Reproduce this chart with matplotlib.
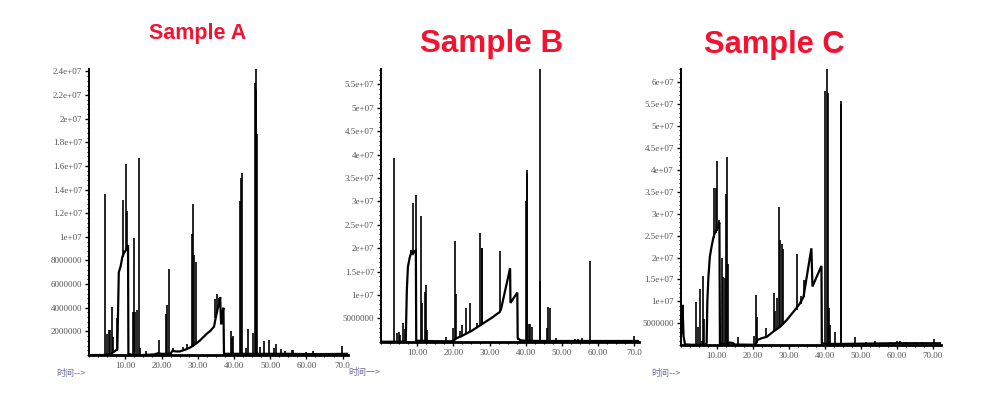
import matplotlib
matplotlib.use("Agg")
import matplotlib.pyplot as plt
from matplotlib.ticker import FixedLocator, FixedFormatter, MultipleLocator

# ---------------- data ----------------
titles = ["Sample A", "Sample B", "Sample C"]
x_label_text = ["时间-->", "时间一>", "时间-->"]

x_ticks = [10, 20, 30, 40, 50, 60, 70]
a_x_ticklabels = ["10.00", "20.00", "30.00", "40.00", "50.00", "60.00", "70.0"]
b_x_ticklabels = ["10.00", "20.00", "30.00", "40.00", "50.00", "60.00", "70.0"]
c_x_ticklabels = ["10.00", "20.00", "30.00", "40.00", "50.00", "60.00", "70.00"]

a_y_ticks = [2e6, 4e6, 6e6, 8e6, 1e7, 1.2e7, 1.4e7, 1.6e7, 1.8e7, 2e7, 2.2e7, 2.4e7]
a_y_ticklabels = ["2000000", "4000000", "6000000", "8000000", "1e+07", "1.2e+07",
                  "1.4e+07", "1.6e+07", "1.8e+07", "2e+07", "2.2e+07", "2.4e+07"]
b_y_ticks = [5e6, 1e7, 1.5e7, 2e7, 2.5e7, 3e7, 3.5e7, 4e7, 4.5e7, 5e7, 5.5e7]
b_y_ticklabels = ["5000000", "1e+07", "1.5e+07", "2e+07", "2.5e+07", "3e+07",
                  "3.5e+07", "4e+07", "4.5e+07", "5e+07", "5.5e+07"]
c_y_ticks = [5e6, 1e7, 1.5e7, 2e7, 2.5e7, 3e7, 3.5e7, 4e7, 4.5e7, 5e7, 5.5e7, 6e7]
c_y_ticklabels = ["5000000", "1e+07", "1.5e+07", "2e+07", "2.5e+07", "3e+07",
                  "3.5e+07", "4e+07", "4.5e+07", "5e+07", "5.5e+07", "6e+07"]

# Sample A baseline trace
a_base_t = [0, 4.0, 6.0, 7.0, 7.8, 8.2, 8.7, 9.2, 9.6, 10.2, 10.75, 10.85, 12, 15,
            18.0, 19.0, 20.0, 22.5, 23.0, 24.0, 25.0, 26.0, 27.0, 28.0, 29.0, 29.7,
            30.5, 31.5, 32.5, 33.5, 34.5, 35.0, 35.5, 36.0, 36.2, 36.45, 36.8, 37.1,
            37.25, 38.0, 40.0, 45.0, 50.0, 55.0, 60.0, 65.0, 71.5]
a_base_v = [0, 0, 0.1e6, 0.3e6, 0.5e6, 7.0e6, 7.5e6, 8.3e6, 8.6e6, 8.9e6, 9.3e6, 0.1e6,
            0, 0, 0.05e6, 0.15e6, 0.1e6, 0.1e6, 0.35e6, 0.3e6, 0.3e6, 0.4e6, 0.5e6,
            0.65e6, 0.85e6, 1.0e6, 1.2e6, 1.5e6, 1.8e6, 2.05e6, 2.4e6, 3.2e6, 3.9e6,
            4.5e6, 4.9e6, 2.6e6, 3.5e6, 4.0e6, 0.1e6, 0.1e6, 0.1e6, 0.1e6, 0.1e6,
            0.1e6, 0.08e6, 0.08e6, 0.1e6]
# Sample A peaks: time, apex, foot
a_peak_t = [4.4, 5.0, 5.4, 5.9, 6.3, 6.6, 7.6, 9.3, 10.1, 10.6, 12.2, 12.5, 12.7, 13.2,
            13.7, 13.95, 15.8, 19.4, 21.1, 21.6, 22.1, 23.2, 25.8, 26.9, 28.3, 28.7,
            29.1, 29.5, 34.9, 35.3, 35.9, 39.1, 39.4, 39.7, 41.8, 41.95, 42.1, 43.2,
            44.0, 45.4, 45.8, 46.0, 46.2, 46.4, 47.2, 48.4, 49.8, 51.2, 51.5, 53.0,
            54.0, 55.9, 56.3, 58.9, 59.8, 61.9, 64.5, 67.0, 69.8]
a_peak_h = [1.36e7, 1.8e6, 2.1e6, 2.1e6, 4.1e6, 1.5e6, 3.1e6, 1.31e7, 1.62e7, 1.22e7,
            3.6e6, 9.9e6, 3.6e6, 3.8e6, 1.67e7, 0.6e6, 0.3e6, 1.3e6, 3.5e6, 4.2e6,
            7.3e6, 0.6e6, 0.7e6, 0.9e6, 1.02e7, 1.28e7, 8.5e6, 7.9e6, 4.7e6, 5.2e6,
            4.8e6, 2.0e6, 1.4e6, 1.6e6, 1.3e7, 1.5e7, 1.54e7, 0.6e6, 2.2e6, 1.85e6,
            2.3e7, 2.42e7, 2.24e7, 1.87e7, 0.7e6, 1.2e6, 1.25e6, 0.6e6, 0.9e6, 0.55e6,
            0.35e6, 0.45e6, 0.4e6, 0.2e6, 0.25e6, 0.35e6, 0.15e6, 0.2e6, 0.8e6]
a_peak_b = [0, 0, 0, 0.1e6, 0.1e6, 0.2e6, 0.3e6, 8.3e6, 8.9e6, 9.2e6, 0, 0, 0, 0,
            0, 0, 0, 0.1e6, 0.1e6, 0.1e6, 0.1e6, 0.3e6, 0.4e6, 0.5e6, 0.65e6, 0.7e6,
            0.8e6, 0.9e6, 3.1e6, 3.7e6, 4.4e6, 0.1e6, 0.1e6, 0.1e6, 0.1e6, 0.1e6,
            0.1e6, 0.1e6, 0.1e6, 0.1e6, 0.1e6, 0.1e6, 0.1e6, 0.1e6, 0.1e6, 0.1e6,
            0.1e6, 0.1e6, 0.1e6, 0.1e6, 0.1e6, 0.1e6, 0.1e6, 0.1e6, 0.1e6, 0.1e6,
            0.1e6, 0.1e6, 0.1e6]

# Sample B baseline trace
b_base_t = [0, 6.0, 6.8, 7.1, 7.4, 7.9, 8.4, 8.8, 9.2, 9.6, 9.7, 11.0, 15.0, 19.5,
            20.0, 21.0, 22.0, 23.0, 24.0, 25.0, 26.0, 27.0, 28.0, 29.0, 30.0, 31.0,
            32.0, 32.8, 33.2, 35.7, 35.8, 37.7, 37.8, 38.5, 40.0, 45.0, 50.0, 55.0,
            60.0, 65.0, 71.4]
b_base_v = [0, 0, 0.3e6, 1.1e7, 1.6e7, 1.8e7, 1.92e7, 1.88e7, 1.93e7, 1.95e7, 0.2e6,
            0.2e6, 0.1e6, 0.1e6, 0.2e6, 0.8e6, 1.1e6, 1.5e6, 1.9e6, 2.3e6, 2.8e6,
            3.3e6, 3.8e6, 4.3e6, 4.8e6, 5.3e6, 5.9e6, 6.3e6, 7.0e6, 1.57e7, 8.3e6,
            1.05e7, 0.8e6, 0.3e6, 0.2e6, 0.15e6, 0.15e6, 0.15e6, 0.15e6, 0.15e6,
            0.15e6]
b_peak_t = [3.65, 4.5, 4.8, 5.3, 6.1, 6.7, 8.3, 8.9, 9.55, 11.0, 11.3, 12.0, 12.4, 12.6,
            15.5, 18.0, 19.9, 20.5, 20.8, 21.7, 22.5, 23.4, 24.5, 26.6, 27.4, 27.8,
            28.0, 33.0, 38.0, 40.1, 40.3, 40.5, 40.8, 41.2, 41.7, 43.9, 44.1, 45.8,
            46.1, 46.7, 48.4, 53.7, 54.6, 55.5, 56.7, 57.8, 70.1]
b_peak_h = [3.92e7, 1.8e6, 2.0e6, 1.4e6, 4.1e6, 2.7e6, 1.97e7, 2.97e7, 3.14e7, 2.68e7,
            8.2e6, 1.06e7, 1.21e7, 2.5e6, 0.3e6, 1.0e6, 2.9e6, 2.15e7, 1.03e7, 2.3e6,
            3.5e6, 7.1e6, 8.2e6, 3.9e6, 2.33e7, 2.0e7, 2.0e7, 1.94e7, 0.8e6, 3.0e7,
            3.68e7, 3.6e7, 3.8e6, 3.8e6, 3.1e6, 5.83e7, 1.3e7, 2.9e6, 7.5e6, 7.2e6,
            0.7e6, 0.5e6, 0.5e6, 0.8e6, 0.4e6, 1.72e7, 1.3e6]
b_peak_b = [0, 0, 0, 0, 0, 0.2e6, 1.9e7, 1.88e7, 1.9e7, 0.2e6, 0.2e6, 0.2e6, 0.2e6,
            0.2e6, 0.1e6, 0.1e6, 0.15e6, 0.5e6, 0.6e6, 1.0e6, 1.3e6, 1.6e6, 2.0e6,
            3.1e6, 3.5e6, 3.7e6, 3.8e6, 6.5e6, 0.3e6, 0.2e6, 0.2e6, 0.2e6, 0.2e6,
            0.2e6, 0.2e6, 0.15e6, 0.15e6, 0.15e6, 0.15e6, 0.15e6, 0.15e6, 0.15e6,
            0.15e6, 0.15e6, 0.15e6, 0.15e6, 0.15e6]

# Sample C baseline trace
c_base_t = [0, 0.3, 0.5, 0.8, 1.2, 3.0, 6.9, 7.2, 7.4, 7.7, 8.1, 8.6, 9.1, 9.5, 10.0,
            10.5, 10.75, 10.9, 13.2, 13.6, 14.5, 15.0, 20.5, 20.9, 21.3, 22.5, 23.9,
            25.7, 27.6, 29.4, 31.3, 33.1, 34.1, 36.3, 36.6, 39.1, 39.2, 40.0, 45.0,
            50.0, 55.0, 60.0, 65.0, 72.3]
c_base_v = [1.0e6, 5.0e6, 9.2e6, 2.0e6, 0.2e6, 0.1e6, 0.1e6, 0.5e6, 1.0e7, 1.56e7,
            2.02e7, 2.26e7, 2.46e7, 2.57e7, 2.63e7, 2.74e7, 2.8e7, 0.3e6, 0.3e6,
            0.6e6, 0.5e6, 0.15e6, 0.1e6, 0.3e6, 1.2e6, 1.6e6, 1.9e6, 3.1e6, 4.2e6,
            5.7e6, 7.6e6, 9.5e6, 1.1e7, 2.21e7, 1.34e7, 1.81e7, 0.5e6, 0.3e6, 0.3e6,
            0.35e6, 0.4e6, 0.45e6, 0.45e6, 0.45e6]
c_peak_t = [4.2, 4.9, 5.35, 5.9, 6.3, 6.6, 9.35, 9.7, 10.1, 10.75, 11.6, 11.85, 12.2,
            12.7, 12.9, 13.1, 16.0, 20.4, 20.9, 21.2, 23.8, 25.8, 26.3, 26.8, 27.3,
            27.7, 28.0, 28.3, 32.2, 33.3, 34.2, 40.2, 40.5, 40.8, 41.1, 41.6, 42.9,
            44.4, 44.6, 46.5, 48.3, 51.5, 54.0, 56.0, 58.0, 60.0, 61.0, 62.5, 65.0,
            67.0, 70.4]
c_peak_h = [9.9e6, 4.2e6, 1.28e7, 1.0e6, 1.58e7, 5.9e6, 3.58e7, 3.58e7, 4.2e7, 2.86e7,
            1.98e7, 1.55e7, 1.54e7, 3.44e7, 4.29e7, 1.85e7, 1.95e6, 2.2e6, 1.15e7,
            6.5e6, 3.9e6, 1.18e7, 7.7e6, 1.07e7, 3.16e7, 2.4e7, 2.3e7, 2.2e7, 2.08e7,
            1.12e7, 1.49e7, 5.8e7, 6.3e7, 5.75e7, 8.4e6, 4.6e6, 3.1e6, 5.58e7, 5.5e7,
            0.6e6, 1.9e6, 0.8e6, 0.9e6, 0.6e6, 0.7e6, 0.9e6, 0.9e6, 0.8e6, 0.8e6,
            0.7e6, 1.4e6]
c_peak_b = [0.1e6, 0.1e6, 0.1e6, 0.1e6, 0.1e6, 0.1e6, 2.45e7, 2.55e7, 2.6e7, 2.75e7,
            0.3e6, 0.3e6, 0.3e6, 0.3e6, 0.3e6, 0.5e6, 0.15e6, 0.1e6, 0.2e6, 0.4e6,
            1.9e6, 3.0e6, 3.3e6, 3.6e6, 3.9e6, 4.1e6, 4.3e6, 4.5e6, 8.0e6, 9.5e6,
            1.1e7, 0.3e6, 0.3e6, 0.3e6, 0.3e6, 0.3e6, 0.3e6, 0.3e6, 0.3e6, 0.3e6,
            0.3e6, 0.35e6, 0.4e6, 0.4e6, 0.45e6, 0.45e6, 0.45e6, 0.45e6, 0.45e6,
            0.45e6, 0.45e6]

# ---------------- figure ----------------
fig = plt.figure(figsize=(9.95, 3.96), dpi=100)

panels = [
    dict(rect=[89.1 / 995, 1 - 355.0 / 396, (348 - 89.1) / 995, (355.0 - 69) / 396],
         xlim=(0, 71.5), ylim=(0, 2.42e7), minor=4e5,
         base=(a_base_t, a_base_v), peaks=(a_peak_t, a_peak_h, a_peak_b),
         yt=a_y_ticks, ytl=a_y_ticklabels, xtl=a_x_ticklabels,
         title=(198, 39.5, 15.5), xlab=(56, 376)),
    dict(rect=[381.2 / 995, 1 - 341.7 / 396, (639 - 381.2) / 995, (341.7 - 69) / 396],
         xlim=(0, 71.4), ylim=(0, 5.83e7), minor=1e6,
         base=(b_base_t, b_base_v), peaks=(b_peak_t, b_peak_h, b_peak_b),
         yt=b_y_ticks, ytl=b_y_ticklabels, xtl=b_x_ticklabels,
         title=(491.5, 52.3, 22.6), xlab=(348, 375)),
    dict(rect=[680.7 / 995, 1 - 345.2 / 396, (941 - 680.7) / 995, (345.2 - 69) / 396],
         xlim=(0, 72.3), ylim=(0, 6.3e7), minor=1e6,
         base=(c_base_t, c_base_v), peaks=(c_peak_t, c_peak_h, c_peak_b),
         yt=c_y_ticks, ytl=c_y_ticklabels, xtl=c_x_ticklabels,
         title=(774.5, 52.7, 22.2), xlab=(651, 376)),
]

tick_col = "#555555"
for i, p in enumerate(panels):
    ax = fig.add_axes(p["rect"])
    ax.set_xlim(*p["xlim"])
    ax.set_ylim(*p["ylim"])
    bt, bv = p["base"]
    ax.plot(bt, bv, color="black", lw=1.6, solid_joinstyle="miter")
    pt, ph, pb = p["peaks"]
    ax.vlines(pt, pb, ph, color="black", lw=1.2)
    for s in ["top", "right"]:
        ax.spines[s].set_visible(False)
    ax.spines["left"].set_linewidth(1.4)
    ax.spines["bottom"].set_linewidth(2.0)
    ax.xaxis.set_major_locator(FixedLocator(x_ticks))
    ax.xaxis.set_major_formatter(FixedFormatter(p["xtl"]))
    ax.xaxis.set_minor_locator(MultipleLocator(2.5))
    ax.yaxis.set_major_locator(FixedLocator(p["yt"]))
    ax.yaxis.set_major_formatter(FixedFormatter(p["ytl"]))
    ax.yaxis.set_minor_locator(MultipleLocator(p["minor"]))
    ax.tick_params(axis="both", which="major", length=3, width=1, color="black",
                   labelsize=6.5, labelcolor=tick_col, pad=2)
    ax.tick_params(axis="both", which="minor", length=1.6, width=0.8, color="black")
    for lab in ax.get_xticklabels() + ax.get_yticklabels():
        lab.set_family("Liberation Serif")
    ax.set_facecolor("none")

    tx, ty, fs = p["title"]
    fig.text(tx / 995, 1 - ty / 396, titles[i], color="#f3122f", fontsize=fs,
             fontweight="bold", family="Liberation Sans", ha="center", va="baseline")
    lx, ly = p["xlab"]
    fig.text(lx / 995, 1 - ly / 396, x_label_text[i], color="#6a6aa0", fontsize=6.5,
             family=["Noto Sans CJK SC", "DejaVu Sans"], ha="left", va="baseline")

fig.savefig("out.png", dpi=100)
